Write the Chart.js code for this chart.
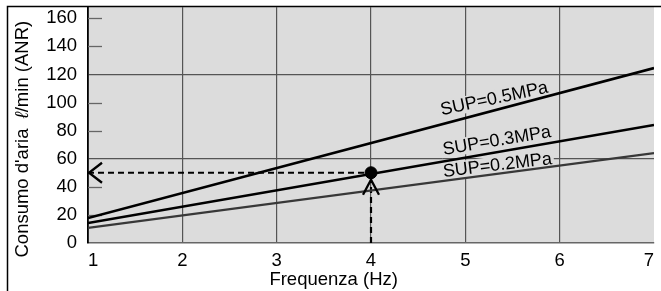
<!DOCTYPE html>
<html>
<head>
<meta charset="utf-8">
<script src="https://cdn.jsdelivr.net/npm/chart.js@4/dist/chart.umd.min.js"></script>
<style>
  html, body { margin: 0; padding: 0; background: #fff; }
  #wrap { width: 661px; height: 291px; position: relative; }
</style>
</head>
<body>
<div id="wrap"><canvas id="c"></canvas></div>
<script>
// ---- data ----
const frequencyHz = [1, 7];
const sup05 = [17.8, 124.5];
const sup03 = [14.2, 84];
const sup02 = [10.7, 64];
const seriesNames = ['SUP=0.5MPa', 'SUP=0.3MPa', 'SUP=0.2MPa'];
const examplePoint = { x: 4, y: 50 };
const yTickValues = [0, 20, 40, 60, 80, 100, 120, 140, 160];
const yGridValues = [60, 120];
const xTitle = 'Frequenza (Hz)';
const yTitleParts = ["Consumo d'aria  ", 'ℓ', '/min (ANR)'];

const FONT = '"Liberation Sans", Arial, Helvetica, sans-serif';
const BG = '#dcdcdc';
const FS = 18.5;

function pts(xs, ys) { return xs.map((x, i) => ({ x: x, y: ys[i] })); }

// label placement (start x in data units, offset above line in px, angle in degrees)
const labelStyle = [
  { startX: 4.75, lift: 9, angle: 12 },
  { startX: 4.77, lift: 6.5, angle: 9.5 },
  { startX: 4.77, lift: 4, angle: 6.8 }
];
const seriesData = [sup05, sup03, sup02];

function lineValueAt(ys, x) {
  const t = (x - frequencyHz[0]) / (frequencyHz[1] - frequencyHz[0]);
  return ys[0] + (ys[1] - ys[0]) * t;
}

const decor = {
  id: 'decor',
  beforeDraw(chart) {
    const { ctx, chartArea: a } = chart;
    ctx.save();
    ctx.fillStyle = BG;
    ctx.fillRect(a.left, a.top, a.right - a.left, a.bottom - a.top);
    ctx.strokeStyle = '#000';
    ctx.lineWidth = 1.5;
    ctx.beginPath();
    ctx.moveTo(7.5, chart.height);
    ctx.lineTo(7.5, 6.5);
    ctx.lineTo(chart.width, 6.5);
    ctx.stroke();
    ctx.restore();
  },
  beforeDatasetsDraw(chart) {
    const { ctx, chartArea: a, scales } = chart;
    const ys = scales.y, xs = scales.x;
    ctx.save();
    ctx.strokeStyle = '#666';
    ctx.lineWidth = 1.3;
    yTickValues.forEach(v => {
      if (v === 0 || yGridValues.includes(v)) return;
      const py = Math.round(ys.getPixelForValue(v)) + 0.5;
      ctx.beginPath();
      ctx.moveTo(a.left, py);
      ctx.lineTo(a.left + 14, py);
      ctx.stroke();
    });
    ctx.font = '18px ' + FONT;
    seriesNames.forEach((name, i) => {
      const st = labelStyle[i];
      const px = xs.getPixelForValue(st.startX);
      const py = ys.getPixelForValue(lineValueAt(seriesData[i], st.startX)) - st.lift;
      const w = ctx.measureText(name).width;
      ctx.save();
      ctx.translate(px, py);
      ctx.rotate(-st.angle * Math.PI / 180);
      ctx.fillStyle = BG;
      ctx.fillRect(-2, -14, w + 4, 17);
      ctx.restore();
    });
    ctx.restore();
  },
  afterDatasetsDraw(chart) {
    const { ctx, scales } = chart;
    const ys = scales.y, xs = scales.x;
    ctx.save();
    ctx.font = '18px ' + FONT;
    ctx.fillStyle = '#000';
    ctx.textBaseline = 'alphabetic';
    ctx.textAlign = 'left';
    seriesNames.forEach((name, i) => {
      const st = labelStyle[i];
      const px = xs.getPixelForValue(st.startX);
      const py = ys.getPixelForValue(lineValueAt(seriesData[i], st.startX)) - st.lift;
      ctx.save();
      ctx.translate(px, py);
      ctx.rotate(-st.angle * Math.PI / 180);
      ctx.fillText(name, 0, 0);
      ctx.restore();
    });
    ctx.strokeStyle = '#000';
    ctx.lineWidth = 2.3;
    ctx.lineJoin = 'miter';
    const hx = xs.getPixelForValue(frequencyHz[0]) + 1;
    const hy = ys.getPixelForValue(examplePoint.y);
    ctx.beginPath();
    ctx.moveTo(hx + 13, hy - 10);
    ctx.lineTo(hx, hy);
    ctx.lineTo(hx + 13, hy + 10);
    ctx.stroke();
    const vx = xs.getPixelForValue(examplePoint.x);
    const vy = ys.getPixelForValue(examplePoint.y) + 7;
    ctx.beginPath();
    ctx.moveTo(vx - 8, vy + 15);
    ctx.lineTo(vx, vy);
    ctx.lineTo(vx + 8, vy + 15);
    ctx.stroke();
    ctx.restore();
  },
  afterDraw(chart) {
    const { ctx, chartArea: a } = chart;
    ctx.save();
    ctx.fillStyle = '#000';
    ctx.font = FS + 'px ' + FONT;
    ctx.textBaseline = 'alphabetic';
    ctx.textAlign = 'center';
    ctx.fillText(xTitle, a.left + (a.right - a.left) * 0.434, 285);
    const fonts = [FS + 'px ' + FONT, 'italic ' + FS + 'px ' + FONT, FS + 'px ' + FONT];
    let total = 0;
    const widths = yTitleParts.map((p, i) => { ctx.font = fonts[i]; const w = ctx.measureText(p).width; total += w; return w; });
    ctx.translate(28, a.top + (a.bottom - a.top) * 0.56);
    ctx.rotate(-Math.PI / 2);
    ctx.textAlign = 'left';
    let x = -total / 2;
    yTitleParts.forEach((p, i) => { ctx.font = fonts[i]; ctx.fillText(p, x, 0); x += widths[i]; });
    ctx.restore();
  }
};

new Chart(document.getElementById('c'), {
  type: 'scatter',
  data: {
    datasets: [
      { label: seriesNames[0], data: pts(frequencyHz, sup05), showLine: true, borderColor: '#000', borderWidth: 2.6, pointRadius: 0 },
      { label: seriesNames[1], data: pts(frequencyHz, sup03), showLine: true, borderColor: '#000', borderWidth: 2.6, pointRadius: 0 },
      { label: seriesNames[2], data: pts(frequencyHz, sup02), showLine: true, borderColor: '#383838', borderWidth: 2.2, pointRadius: 0 },
      { label: 'guide-h', data: [{ x: frequencyHz[0], y: examplePoint.y }, examplePoint], showLine: true, borderColor: '#000', borderWidth: 2.2, borderDash: [6, 4], pointRadius: 0 },
      { label: 'guide-v', data: [{ x: examplePoint.x, y: 0 }, examplePoint], showLine: true, borderColor: '#000', borderWidth: 2.2, borderDash: [6, 4], pointRadius: 0 },
      { label: 'point', data: [examplePoint], pointRadius: 6, pointBackgroundColor: '#000', pointBorderColor: '#000', showLine: false }
    ]
  },
  options: {
    responsive: true,
    maintainAspectRatio: false,
    animation: false,
    devicePixelRatio: 1,
    layout: { padding: { left: 8, top: 7, right: 0, bottom: 0 } },
    plugins: { legend: { display: false }, tooltip: { enabled: false } },
    scales: {
      x: {
        type: 'linear', min: 1, max: 7,
        afterFit(s) { s.height = 48; s.paddingLeft = 0; s.paddingRight = 0; },
        ticks: { stepSize: 1, color: '#000', font: { size: FS, family: FONT }, padding: 7, align: 'inner', maxRotation: 0 },
        grid: {
          drawTicks: false,
          color: c => (c.tick && c.tick.value > 1 && c.tick.value < 7) ? '#555' : 'rgba(0,0,0,0)',
          lineWidth: 1.2
        },
        border: { display: true, color: '#666', width: 1.5 }
      },
      y: {
        type: 'linear', min: 0, max: 168,
        afterFit(s) { s.width = 80; s.paddingTop = 0; s.paddingBottom = 0; },
        afterBuildTicks(s) { s.ticks = yTickValues.map(v => ({ value: v })); },
        ticks: { color: '#000', font: { size: FS, family: FONT }, padding: 11 },
        grid: {
          drawTicks: false,
          color: c => (c.tick && yGridValues.includes(c.tick.value)) ? '#555' : 'rgba(0,0,0,0)',
          lineWidth: 1.2
        },
        border: { display: true, color: '#000', width: 1.8 }
      }
    }
  },
  plugins: [decor]
});
</script>
</body>
</html>
